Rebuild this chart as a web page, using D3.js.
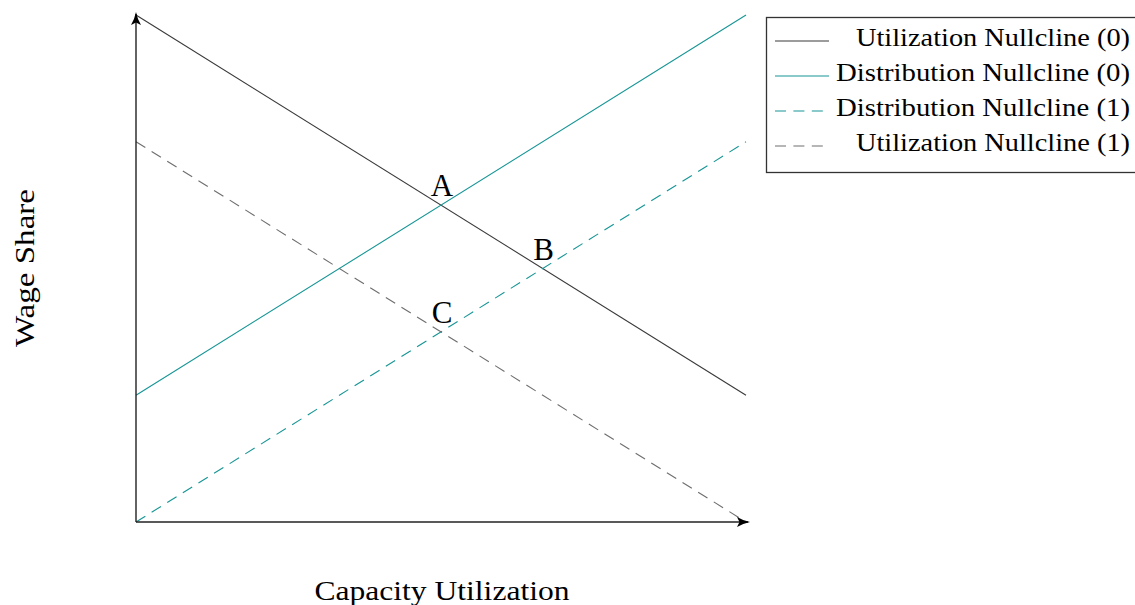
<!DOCTYPE html>
<html>
<head>
<meta charset="utf-8">
<script src="https://cdn.jsdelivr.net/npm/d3@7"></script>
<style>
  html, body { margin: 0; padding: 0; background: #fff; }
  svg { display: block; }
  text { font-family: "Liberation Serif", "Times New Roman", serif; fill: #000; }
</style>
</head>
<body>
<svg id="chart" width="1135" height="605"></svg>
<script>
// Nullcline endpoints in (capacity utilization, wage share) units
const seriesNames = ["Utilization Nullcline (0)", "Distribution Nullcline (0)", "Distribution Nullcline (1)", "Utilization Nullcline (1)"];
const utilization0 = [[0, 4], [1, 1]];
const distribution0 = [[0, 1], [1, 4]];
const distribution1 = [[0, 0], [1, 3]];
const utilization1 = [[0, 3], [1, 0]];

// Equilibrium points
const pointNames = ["A", "B", "C"];
const pointValues = [[0.5, 2.5], [2 / 3, 2], [0.5, 1.5]];

const svg = d3.select("#chart");
const x = d3.scaleLinear().domain([0, 1]).range([136, 746]);
const y = d3.scaleLinear().domain([0, 4]).range([522, 15]);

const teal = "#169595";
const styles = [
  { color: "#3a3a3a", dash: null },
  { color: teal, dash: null },
  { color: teal, dash: "11,7.4" },
  { color: "#6e6e6e", dash: "11,7.4" }
];
const seriesData = [utilization0, distribution0, distribution1, utilization1];

// Arrow marker for axes
svg.append("defs").append("marker")
  .attr("id", "arrow")
  .attr("viewBox", "0 0 13 10")
  .attr("refX", 11).attr("refY", 5)
  .attr("markerUnits", "userSpaceOnUse")
  .attr("markerWidth", 13).attr("markerHeight", 10)
  .attr("orient", "auto")
  .append("path")
  .attr("d", "M0,0 Q6,3.6 13,5 Q6,6.4 0,10 L2.5,5 Z")
  .attr("fill", "#000");

const line = d3.line().x(d => x(d[0])).y(d => y(d[1]));

// Nullclines
svg.append("g").selectAll("path")
  .data(seriesData)
  .join("path")
  .attr("d", line)
  .attr("fill", "none")
  .attr("stroke", (d, i) => styles[i].color)
  .attr("stroke-width", 1.1)
  .attr("stroke-dasharray", (d, i) => styles[i].dash);

// Axes with arrowheads
svg.append("line")
  .attr("x1", x(0)).attr("y1", y(0))
  .attr("x2", x(1) + 2).attr("y2", y(0))
  .attr("stroke", "#222").attr("stroke-width", 1.4)
  .attr("marker-end", "url(#arrow)");
svg.append("line")
  .attr("x1", x(0)).attr("y1", y(0))
  .attr("x2", x(0)).attr("y2", y(4) - 1)
  .attr("stroke", "#222").attr("stroke-width", 1.4)
  .attr("marker-end", "url(#arrow)");

// Point labels
svg.append("g").selectAll("text")
  .data(pointNames)
  .join("text")
  .attr("x", (d, i) => x(pointValues[i][0]) + 1)
  .attr("y", (d, i) => y(pointValues[i][1]) - 9)
  .attr("text-anchor", "middle")
  .attr("font-size", 31)
  .text(d => d);

// Axis titles
svg.append("text")
  .attr("x", 442).attr("y", 600)
  .attr("text-anchor", "middle")
  .attr("font-size", 27)
  .attr("textLength", 255)
  .attr("lengthAdjust", "spacingAndGlyphs")
  .text("Capacity Utilization");

svg.append("text")
  .attr("transform", "translate(34,268) rotate(-90)")
  .attr("text-anchor", "middle")
  .attr("font-size", 27)
  .attr("textLength", 158)
  .attr("lengthAdjust", "spacingAndGlyphs")
  .text("Wage Share");

// Legend
const legend = svg.append("g");
legend.append("rect")
  .attr("x", 766.5).attr("y", 17.5)
  .attr("width", 380).attr("height", 155)
  .attr("fill", "#fff")
  .attr("stroke", "#333").attr("stroke-width", 1.3);

const legendWidths = [274, 294, 294, 274];
const rows = legend.selectAll("g.row")
  .data(seriesNames)
  .join("g")
  .attr("class", "row")
  .attr("transform", (d, i) => `translate(0,${41 + i * 35})`);

rows.append("line")
  .attr("x1", 775).attr("x2", 829)
  .attr("y1", 0).attr("y2", 0)
  .attr("stroke", (d, i) => styles[i].color)
  .attr("stroke-width", 1.1)
  .attr("stroke-dasharray", (d, i) => styles[i].dash);

rows.append("text")
  .attr("x", 1130).attr("y", 5)
  .attr("text-anchor", "end")
  .attr("font-size", 25.5)
  .attr("textLength", (d, i) => legendWidths[i])
  .attr("lengthAdjust", "spacingAndGlyphs")
  .text(d => d);
</script>
</body>
</html>
